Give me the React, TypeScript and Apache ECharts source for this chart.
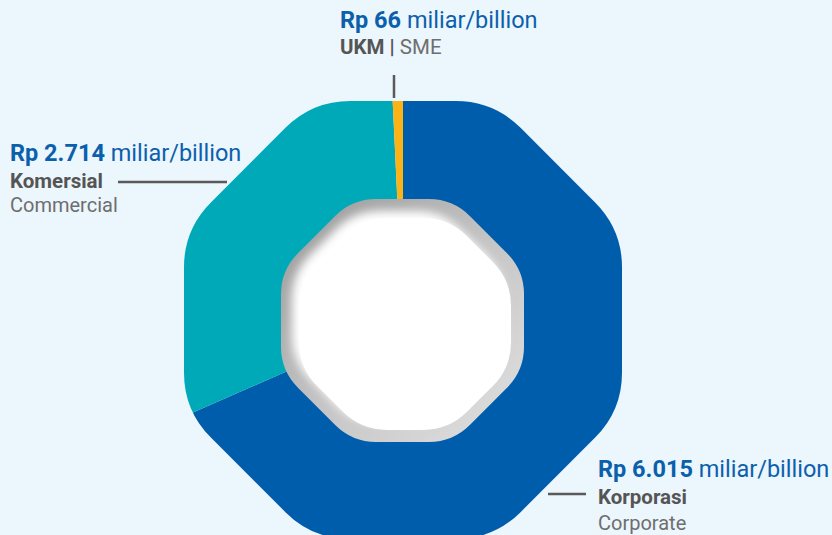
import React, { useEffect, useRef } from 'react';
import * as echarts from 'echarts';

// ---- data ----
const categoriesId = ['Korporasi', 'Komersial', 'UKM'];
const categoriesEn = ['Corporate', 'Commercial', 'SME'];
const values = [6015, 2714, 66];
const unitLabel = 'miliar/billion';
const colors = ['#005DAB', '#00A9B8', '#FCB316'];

// ---- styling / layout ----
const BG = '#ECF6FD';
const BLUE_TEXT = '#0B60AC';
const DARK_TEXT = '#555555';
const LIGHT_TEXT = '#6E6E6E';
const LINE_COLOR = '#5A5A5A';
const FONT = 'Roboto';
const CX = 403;
const CY = 320;

function fmt(v: number) {
  return String(v).replace(/\B(?=(\d{3})+(?!\d))/g, '.');
}

function octPath(cx: number, cy: number, a: number, t: number, reverse: boolean) {
  const R = a / Math.cos(Math.PI / 8);
  const vs: number[][] = [];
  for (let k = 0; k < 8; k++) {
    const th = ((22.5 + 45 * k) * Math.PI) / 180;
    vs.push([cx + R * Math.cos(th), cy + R * Math.sin(th)]);
  }
  if (reverse) vs.reverse();
  const side = 2 * a * Math.tan(Math.PI / 8);
  const f = (p: number[]) => p[0].toFixed(2) + ' ' + p[1].toFixed(2);
  let d = '';
  for (let i = 0; i < 8; i++) {
    const v = vs[i];
    const p = vs[(i + 7) % 8];
    const n = vs[(i + 1) % 8];
    const A = [v[0] + ((p[0] - v[0]) * t) / side, v[1] + ((p[1] - v[1]) * t) / side];
    const B = [v[0] + ((n[0] - v[0]) * t) / side, v[1] + ((n[1] - v[1]) * t) / side];
    d += (i === 0 ? 'M' : 'L') + f(A) + ' Q' + f(v) + ' ' + f(B) + ' ';
  }
  return d + 'Z';
}

echarts.graphic.registerShape(
  'octMask',
  echarts.graphic.extendPath('M-20 -20 L852 -20 L852 555 L-20 555 Z ' + octPath(CX, CY, 219, 38, true), {})
);
echarts.graphic.registerShape('octRim', echarts.graphic.extendPath(octPath(402.5, 320.5, 121.5, 24, false), {}));
echarts.graphic.registerShape('octInner', echarts.graphic.extendPath(octPath(405, 324, 106, 26, false), {}));

// label layout: x and baselines of the label lines, leader line end points
const labelLayout = [
  { x: 598, b: [477, 504, 530], line: [[548, 494], [586, 494]] },
  { x: 10, b: [161, 188, 212], line: [[118, 182], [227, 182]] },
  { x: 340, b: [28, 54, 0], line: [[394, 75], [394, 98]] },
];

const F1 = 23.5;
const F2 = 20.5;
const F3 = 20;

function buildGraphics() {
  const els: any[] = [
    { type: 'octMask', z: 10, silent: true, style: { fill: BG } },
    {
      type: 'octRim',
      z: 11,
      silent: true,
      style: {
        fill: new echarts.graphic.LinearGradient(0, 0, 1, 1, [
          { offset: 0, color: '#979797' },
          { offset: 0.5, color: '#c4c4c4' },
          { offset: 1, color: '#e2e2e2' },
        ]),
      },
    },
    {
      type: 'octInner',
      z: 12,
      silent: true,
      style: { fill: '#ffffff', shadowBlur: 10, shadowColor: '#ffffff', shadowOffsetX: -7, shadowOffsetY: -7 },
    },
  ];
  values.forEach((v, i) => {
    const L = labelLayout[i];
    els.push({
      type: 'text',
      z: 20,
      x: L.x,
      y: L.b[0] - 0.35 * F1,
      style: {
        text: `{b|Rp ${fmt(v)} }{r|${unitLabel}}`,
        align: 'left',
        verticalAlign: 'middle',
        rich: {
          b: { fontFamily: FONT, fontSize: F1, fontWeight: 'bold', fill: BLUE_TEXT },
          r: { fontFamily: FONT, fontSize: F1, fill: BLUE_TEXT },
        },
      },
    });
    if (i === 2) {
      els.push({
        type: 'text',
        z: 20,
        x: L.x,
        y: L.b[1] - 0.35 * F2,
        style: {
          text: `{k|${categoriesId[i]} | }{s|${categoriesEn[i]}}`,
          align: 'left',
          verticalAlign: 'middle',
          rich: {
            k: { fontFamily: FONT, fontSize: F2, fontWeight: 'bold', fill: DARK_TEXT },
            s: { fontFamily: FONT, fontSize: F2, fill: LIGHT_TEXT },
          },
        },
      });
    } else {
      els.push({
        type: 'text',
        z: 20,
        x: L.x,
        y: L.b[1] - 0.35 * F2,
        style: {
          text: categoriesId[i],
          fontFamily: FONT,
          fontSize: F2,
          fontWeight: 'bold',
          fill: DARK_TEXT,
          align: 'left',
          verticalAlign: 'middle',
        },
      });
      els.push({
        type: 'text',
        z: 20,
        x: L.x,
        y: L.b[2] - 0.35 * F3,
        style: {
          text: categoriesEn[i],
          fontFamily: FONT,
          fontSize: F3,
          fill: LIGHT_TEXT,
          align: 'left',
          verticalAlign: 'middle',
        },
      });
    }
    els.push({
      type: 'line',
      z: 20,
      silent: true,
      shape: { x1: L.line[0][0], y1: L.line[0][1], x2: L.line[1][0], y2: L.line[1][1] },
      style: { stroke: LINE_COLOR, lineWidth: 2.5 },
    });
  });
  return els;
}

export default function App() {
  const ref = useRef<HTMLDivElement>(null);
  useEffect(() => {
    document.body.style.margin = '0';
    document.body.style.background = BG;
    if (!ref.current) return;
    const chart = echarts.init(ref.current, null, { renderer: 'svg' });
    chart.setOption({
      animation: false,
      backgroundColor: BG,
      series: [
        {
          type: 'pie',
          z: 2,
          center: [CX, CY],
          radius: [0, 250],
          startAngle: 90,
          clockwise: true,
          silent: true,
          label: { show: false },
          labelLine: { show: false },
          itemStyle: { borderWidth: 0 },
          data: values.map((v, i) => ({
            name: categoriesEn[i],
            value: v,
            itemStyle: { color: colors[i] },
          })),
        },
      ],
      graphic: buildGraphics(),
    });
    return () => chart.dispose();
  }, []);
  return <div ref={ref} style={{ width: 832, height: 535, background: BG }} />;
}
